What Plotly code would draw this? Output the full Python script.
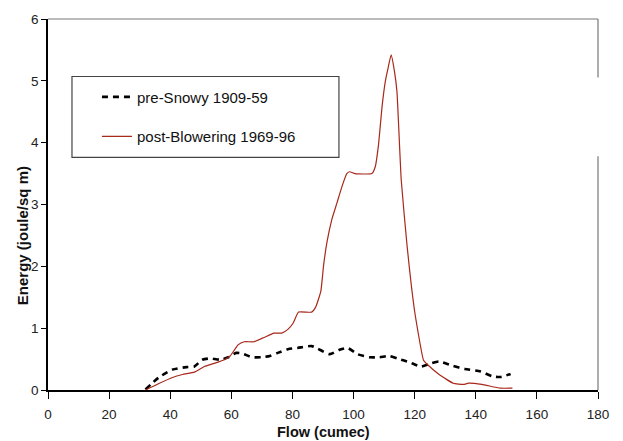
import plotly.graph_objects as go

pre_x = [31.9, 36.2, 40.7, 45.3, 47.9, 50.5, 53.1, 56.4, 59.0, 61.6, 63.5, 66.8, 70.0, 72.6, 75.2,
         78.5, 81.7, 86.3, 88.2, 92.2, 95.4, 98.0, 101.3, 105.2, 108.4, 111.7, 114.3, 118.2,
         122.1, 125.3, 127.9, 132.5, 136.4, 141.6, 145.5, 148.1, 151.4]
pre_y = [0.01, 0.20, 0.33, 0.37, 0.38, 0.49, 0.51, 0.49, 0.53, 0.60, 0.59, 0.53, 0.53, 0.55, 0.60,
         0.66, 0.68, 0.71, 0.67, 0.58, 0.65, 0.68, 0.58, 0.53, 0.53, 0.55, 0.51, 0.45,
         0.38, 0.43, 0.46, 0.39, 0.34, 0.30, 0.22, 0.21, 0.26]

post_x = [31.9, 40.1, 44.0, 47.9, 51.2, 54.4, 57.7, 59.6, 62.2, 64.2, 67.4, 70.7, 73.9, 76.5, 78.5,
          80.2, 82.0, 86.3, 87.6, 89.3, 90.2, 91.3, 92.9, 94.6, 96.2, 97.8, 98.7, 100.5, 106.0,
          107.1, 108.2, 109.3, 110.4, 111.4, 112.3, 113.4, 114.2, 115.6, 117.5, 120.0, 122.9,
          124.0, 128.0, 132.6, 136.0, 137.6, 142.0, 148.0, 152.0]
post_y = [0.0, 0.19, 0.25, 0.29, 0.38, 0.43, 0.49, 0.55, 0.73, 0.78, 0.78, 0.85, 0.92, 0.92, 0.98,
          1.08, 1.26, 1.26, 1.34, 1.60, 2.02, 2.39, 2.76, 3.03, 3.29, 3.50, 3.53, 3.50, 3.50,
          3.61, 3.98, 4.57, 4.99, 5.23, 5.42, 5.15, 4.83, 3.40, 2.34, 1.27, 0.48,
          0.42, 0.25, 0.11, 0.09, 0.11, 0.09, 0.03, 0.03]

x_ticks = [0, 20, 40, 60, 80, 100, 120, 140, 160, 180]
y_ticks = [0, 1, 2, 3, 4, 5, 6]

font = "Liberation Sans, Arial, sans-serif"

fig = go.Figure()
fig.add_trace(go.Scatter(x=pre_x, y=pre_y, mode="lines", name="pre-Snowy 1909-59",
                         legendgroup="a",
                         line=dict(color="black", width=2.6, dash="6px,5px", shape="spline",
                                   smoothing=0.6)))
fig.add_trace(go.Scatter(x=post_x, y=post_y, mode="lines", name="post-Blowering 1969-96",
                         legendgroup="b",
                         line=dict(color="#A8281A", width=1.2, shape="spline", smoothing=0.4)))

fig.update_layout(
    width=623, height=441,
    margin=dict(l=48, r=25, t=13, b=51),
    paper_bgcolor="white", plot_bgcolor="white",
    font=dict(family=font, size=13, color="#111"),
    showlegend=True,
    legend=dict(x=0.089, y=0.834, xanchor="left", yanchor="top",
                bgcolor="rgba(0,0,0,0)", borderwidth=0,
                font=dict(size=15, family=font, color="#111"),
                tracegroupgap=17),
    xaxis=dict(range=[0, 180], tickvals=x_ticks, showgrid=False, zeroline=False,
               showline=True, linecolor="black", linewidth=1.5,
               ticks="outside", ticklen=7, tickcolor="black", tickwidth=1,
               ticklabelstandoff=4,
               tickfont=dict(size=13.5, color="#222")),
    yaxis=dict(range=[0, 6], tickvals=y_ticks, showgrid=False, zeroline=False,
               showline=True, linecolor="black", linewidth=1.5,
               ticks="outside", ticklen=5, tickcolor="black", tickwidth=1,
               tickfont=dict(size=13.5, color="#222")),
    shapes=[
        dict(type="line", xref="paper", yref="paper", x0=0, x1=1, y0=1, y1=1,
             line=dict(color="#777", width=1.2)),
        dict(type="line", xref="paper", yref="paper", x0=1, x1=1, y0=0, y1=0.630,
             line=dict(color="#777", width=1.2)),
        dict(type="line", xref="paper", yref="paper", x0=1, x1=1, y0=0.842, y1=1,
             line=dict(color="#777", width=1.2)),
        dict(type="rect", xref="paper", yref="paper", x0=0.0436, x1=0.529, y0=0.627, y1=0.845,
             line=dict(color="#444", width=1.2), fillcolor="rgba(0,0,0,0)"),
    ],
    annotations=[
        dict(text="<b>Flow (cumec)</b>", xref="paper", yref="paper", x=0.5, y=-0.113,
             xanchor="center", yanchor="middle", showarrow=False,
             font=dict(size=14.5, family=font, color="#111")),
        dict(text="<b>Energy (joule/sq m)</b>", xref="paper", yref="paper", x=-0.047, y=0.415,
             xanchor="center", yanchor="middle", showarrow=False, textangle=-90,
             font=dict(size=15, family=font, color="#111")),
    ],
)

fig.write_html("out.html", config={"displayModeBar": False},
               post_script="document.body.style.margin='0';document.body.style.padding='0';")
